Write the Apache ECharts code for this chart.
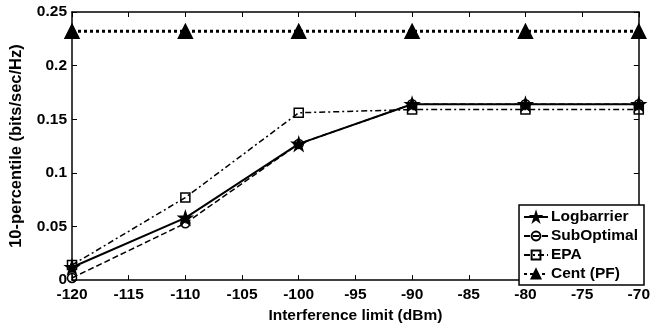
<!DOCTYPE html>
<html>
<head>
<meta charset="utf-8">
<script src="https://cdn.jsdelivr.net/npm/echarts@6/dist/echarts.min.js"></script>
<style>
  html, body {margin: 0; padding: 0; background: #fff;}
  #main {width: 653px; height: 329px;}
</style>
</head>
<body>
<div id="main"></div>
<script>
const limits = [-120, -110, -100, -90, -80, -70];
const logbarrier = [0.012, 0.058, 0.127, 0.164, 0.164, 0.164];
const subOptimal = [0.002, 0.053, 0.127, 0.164, 0.164, 0.164];
const epa = [0.014, 0.077, 0.156, 0.159, 0.159, 0.159];
const cent = [0.232, 0.232, 0.232, 0.232, 0.232, 0.232];

const font = 'Liberation Sans, Arial, sans-serif';
const star = 'path://M50,0 L61.8,35.4 L99,35.4 L69,57.3 L80.4,92.7 L50,70.8 L19.6,92.7 L31,57.3 L1,35.4 L38.2,35.4 Z';

const pts = arr => arr.map((v, i) => [limits[i], v]);

const chart = echarts.init(document.getElementById('main'));

const mkSeries = (name, data, symbol, size, lineType, width, fill) => ({
    name,
    type: 'line',
    data: pts(data),
    symbol,
    symbolSize: size,
    showAllSymbol: true,
    lineStyle: {color: '#000', width, type: lineType},
    itemStyle: {color: fill, borderColor: '#000', borderWidth: 1.5},
    emphasis: {disabled: true},
    animation: false
});

chart.setOption({
    animation: false,
    textStyle: {fontFamily: font},
    grid: {left: 67, right: 10, top: 12, bottom: 45},
    legend: {
        orient: 'vertical',
        right: 9,
        bottom: 44,
        backgroundColor: '#fff',
        borderColor: '#000',
        borderWidth: 1.5,
        borderRadius: 0,
        padding: [4, 6, 3, 4],
        itemGap: 3,
        itemWidth: 24,
        itemHeight: 11,
        textStyle: {fontSize: 15.5, fontWeight: 'bold', color: '#000', fontFamily: font, padding: [0, 0, 0, -2]},
        data: ['Logbarrier', 'SubOptimal', 'EPA', 'Cent (PF)']
    },
    xAxis: [{
        type: 'value',
        min: -120,
        max: -70,
        interval: 5,
        name: 'Interference limit (dBm)',
        nameLocation: 'middle',
        nameGap: 27,
        nameTextStyle: {fontSize: 15.5, fontWeight: 'bold', color: '#000'},
        axisLine: {lineStyle: {color: '#000', width: 1.5}},
        axisTick: {inside: true, length: 5, lineStyle: {color: '#000'}},
        axisLabel: {fontSize: 15.5, fontWeight: 'bold', color: '#000', margin: 7},
        splitLine: {show: false}
    }, {
        type: 'value',
        position: 'top',
        min: -120,
        max: -70,
        interval: 5,
        axisLine: {onZero: false, lineStyle: {color: '#000', width: 1.5}},
        axisTick: {inside: true, length: 5, lineStyle: {color: '#000'}},
        axisLabel: {show: false},
        splitLine: {show: false}
    }],
    yAxis: [{
        type: 'value',
        min: 0,
        max: 0.25,
        interval: 0.05,
        name: '10-percentile (bits/sec/Hz)',
        nameLocation: 'middle',
        nameGap: 47,
        nameTextStyle: {fontSize: 16.5, fontWeight: 'bold', color: '#000'},
        axisLine: {show: true, lineStyle: {color: '#000', width: 1.5}},
        axisTick: {show: true, inside: true, length: 5, lineStyle: {color: '#000'}},
        axisLabel: {fontSize: 15.5, fontWeight: 'bold', color: '#000', margin: 5,
            formatter: v => String(+v.toFixed(2))},
        splitLine: {show: false}
    }, {
        type: 'value',
        position: 'right',
        min: 0,
        max: 0.25,
        interval: 0.05,
        axisLine: {show: true, onZero: false, lineStyle: {color: '#000', width: 1.5}},
        axisTick: {show: true, inside: true, length: 5, lineStyle: {color: '#000'}},
        axisLabel: {show: false},
        splitLine: {show: false}
    }],
    series: [
        mkSeries('Logbarrier', logbarrier, star, 13, 'solid', 2, '#000'),
        mkSeries('SubOptimal', subOptimal, 'circle', 9, [6, 3], 1.5, 'transparent'),
        mkSeries('EPA', epa, 'rect', 9, [6, 3, 2, 3], 1.5, 'transparent'),
        mkSeries('Cent (PF)', cent, 'triangle', 14, [3, 3], 3, '#000')
    ]
});
</script>
</body>
</html>
